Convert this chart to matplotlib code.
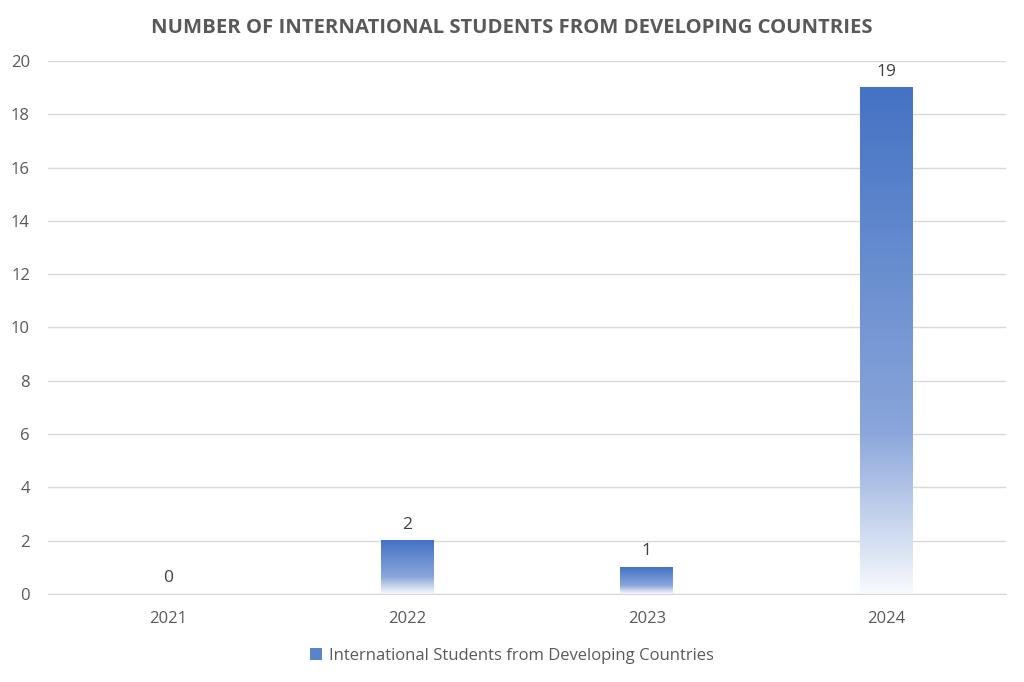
import numpy as np
import matplotlib
matplotlib.use("Agg")
from matplotlib import pyplot as plt
from matplotlib.colors import LinearSegmentedColormap
from matplotlib.patches import Patch

plt.rcParams['font.family'] = ['Open Sans', 'DejaVu Sans']

years = ["2021", "2022", "2023", "2024"]
students = [0, 2, 1, 19]
series_name = "International Students from Developing Countries"

grey = "#595959"
# excel-like gradient: solid blue at top, fading to white at bottom
cmap = LinearSegmentedColormap.from_list(
    "grad", [(0.0, "#4472C4"), (0.68, "#8AA6DA"), (1.0, "#F8FAFD")])

fig = plt.figure(figsize=(10.24, 6.82), dpi=100)
ax = fig.add_axes([0.0469, 0.129, 0.9355, 0.7816])

x = np.arange(len(years))
bar_width = 0.22
grad = np.linspace(0, 1, 256).reshape(-1, 1)

for xi, v in zip(x, students):
    if v > 0:
        ax.imshow(grad, cmap=cmap, aspect="auto", interpolation="bilinear",
                  extent=[xi - bar_width / 2, xi + bar_width / 2, 0, v],
                  origin="upper", zorder=2)
    ax.text(xi, v + 0.3, str(v), ha="center", va="bottom",
            fontsize=12.5, color="#404040", zorder=3)

ax.set_xlim(-0.5, len(years) - 0.5)
ax.set_ylim(0, 20)
ax.set_yticks(range(0, 21, 2))
ax.set_xticks(x)
ax.set_xticklabels(years)

ax.grid(axis="y", color="#D9D9D9", linewidth=1, zorder=0)
ax.set_axisbelow(True)
for s in ["top", "right", "left"]:
    ax.spines[s].set_visible(False)
ax.spines["bottom"].set_color("#D9D9D9")
ax.tick_params(axis="both", length=0, labelsize=12, labelcolor=grey)
ax.tick_params(axis="x", pad=12)
ax.tick_params(axis="y", pad=13)

fig.text(0.5, 0.959, "NUMBER OF INTERNATIONAL STUDENTS FROM DEVELOPING COUNTRIES",
         ha="center", va="center", fontsize=14.6, fontweight="bold", color=grey)

handle = Patch(facecolor="#5B83CC", edgecolor="none")
fig.legend([handle], [series_name], loc="center", bbox_to_anchor=(0.5, 0.038),
           frameon=False, fontsize=12, labelcolor=grey,
           handlelength=0.7, handleheight=0.7, handletextpad=0.4)

fig.savefig("out.png", dpi=100)
